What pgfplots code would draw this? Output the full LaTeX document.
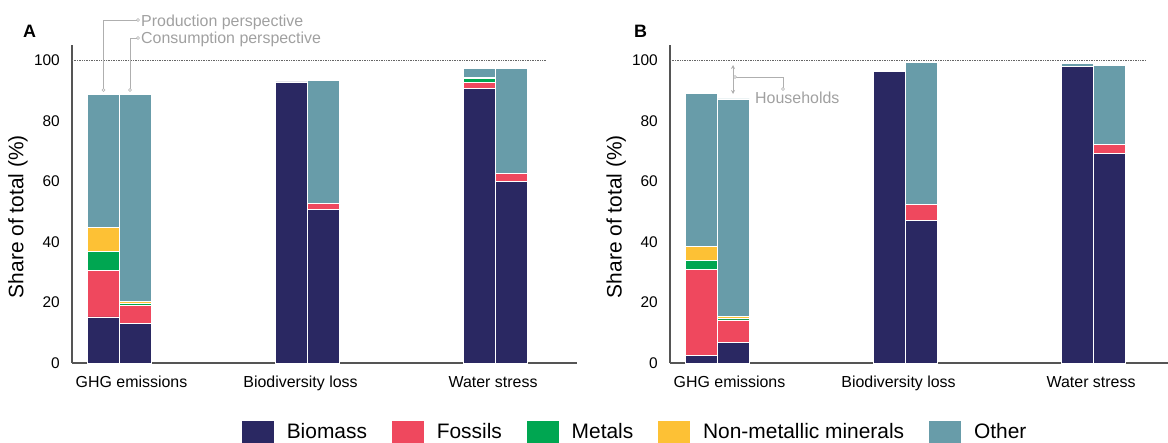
\documentclass[border=0pt]{standalone}
\usepackage{pgfplots}
\pgfplotsset{compat=1.18}
\usepackage{fontspec}
\setmainfont{Liberation Sans}
\usetikzlibrary{arrows.meta}
\definecolor{cBio}{RGB}{42,40,98}
\definecolor{cFos}{RGB}{239,72,94}
\definecolor{cMet}{RGB}{0,166,81}
\definecolor{cNon}{RGB}{253,193,53}
\definecolor{cOth}{RGB}{104,156,169}
\definecolor{annot}{RGB}{175,175,175}
\definecolor{annottext}{RGB}{160,160,160}
\definecolor{axisgray}{RGB}{85,85,85}
\pgfplotsset{
  seg/.style={fill=#1, draw=white, line width=0.8bp,
    legend image code/.code={\fill[#1] (0bp,-11bp) rectangle (31bp,11bp);}},
  panel/.style={
    scale only axis, height=318bp,
    ybar stacked, bar width=31.5bp,
    ymin=0, ymax=105, xmin=-0.2527,
    axis x line=bottom, axis y line=left,
    axis line style={-, draw=axisgray, line width=2bp},
    every outer x axis line/.append style={-},
    every outer y axis line/.append style={-},
    major tick length=0pt,
    ytick={0,20,40,60,80,100},
    xtick={0.064,0.963,1.987},
    xticklabels={GHG emissions, Biodiversity loss, Water stress},
    /pgf/number format/assume math mode=true,
    yticklabel style={font=\fontsize{15.5}{18}\selectfont, anchor=east, inner sep=0pt, xshift=-12bp},
    xticklabel style={font=\fontsize{16}{19}\selectfont, anchor=base, inner sep=0pt, yshift=-25bp},
    ylabel={Share of total (\%)},
    clip=false,
  },
}
\begin{document}
\begin{tikzpicture}
\path[use as bounding box] (0,0) rectangle (1168bp,443bp);
% ---------------- Panel A ----------------
\begin{axis}[panel, at={(72bp,80bp)}, anchor=south west,
  width=505bp, xmax=2.4335,
  ylabel style={font=\fontsize{21}{24}\selectfont, at={(axis description cs:-0.107,0.46)}, anchor=center, rotate=0},
  legend columns=5,
  legend style={at={(0.3366,-0.217)}, anchor=west, draw=none, fill=none,
    inner sep=0pt, outer sep=0pt,
    font=\fontsize{21}{25}\selectfont,
    nodes={inner sep=0pt},
    /tikz/every odd column/.append style={column sep=13bp},
    /tikz/every even column/.append style={column sep=25bp}},
  legend cell align=left]
\draw[densely dotted, black!60, line width=0.7bp] (axis cs:-0.2527,100) -- (axis cs:2.27,100);
\addplot[seg=cBio] coordinates {(-0.0851,15.2) (0.0851,13.0) (0.9149,92.8) (1.0851,50.8) (1.9149,90.8) (2.0851,59.8)};
\addplot[seg=cFos] coordinates {(-0.0851,15.5) (0.0851,6.1) (0.9149,0) (1.0851,1.8) (1.9149,1.8) (2.0851,2.8)};
\addplot[seg=cMet] coordinates {(-0.0851,6.0) (0.0851,0.6) (0.9149,0) (1.0851,0) (1.9149,1.4) (2.0851,0)};
\addplot[seg=cNon] coordinates {(-0.0851,8.0) (0.0851,0.6) (0.9149,0) (1.0851,0) (1.9149,0.4) (2.0851,0)};
\addplot[seg=cOth] coordinates {(-0.0851,44.0) (0.0851,68.4) (0.9149,0) (1.0851,40.8) (1.9149,2.8) (2.0851,34.6)};
\legend{Biomass, Fossils, Metals, Non-metallic minerals, Other}
\end{axis}
% ---------------- Panel B ----------------
\begin{axis}[panel, at={(670bp,80bp)}, anchor=south west,
  width=498bp, xmax=2.3963,
  ylabel style={font=\fontsize{21}{24}\selectfont, at={(axis description cs:-0.108,0.46)}, anchor=center, rotate=0}]
\draw[densely dotted, black!60, line width=0.7bp] (axis cs:-0.2527,100) -- (axis cs:2.274,100);
\addplot[seg=cBio] coordinates {(-0.0851,2.4) (0.0851,6.8) (0.9149,96.2) (1.0851,47.0) (1.9149,97.9) (2.0851,69.2)};
\addplot[seg=cFos] coordinates {(-0.0851,28.4) (0.0851,7.4) (0.9149,0) (1.0851,5.4) (1.9149,0) (2.0851,3.0)};
\addplot[seg=cMet] coordinates {(-0.0851,3.0) (0.0851,0.6) (0.9149,0) (1.0851,0) (1.9149,0) (2.0851,0)};
\addplot[seg=cNon] coordinates {(-0.0851,4.6) (0.0851,0.6) (0.9149,0) (1.0851,0) (1.9149,0) (2.0851,0)};
\addplot[seg=cOth] coordinates {(-0.0851,50.5) (0.0851,71.8) (0.9149,0) (1.0851,46.9) (1.9149,0.9) (2.0851,26.0)};
\end{axis}
% ---------------- Panel labels ----------------
\node[anchor=base west, inner sep=0pt, font=\bfseries\fontsize{18}{20}\selectfont] at (23bp,405bp) {A};
\node[anchor=base west, inner sep=0pt, font=\bfseries\fontsize{18}{20}\selectfont] at (634bp,405bp) {B};
% ---------------- Annotations ----------------
\draw[annot, line width=0.9bp] (103.5bp,353bp) -- (103.5bp,423bp) -- (138bp,423bp);
\draw[annot, line width=0.9bp] (130bp,353bp) -- (130bp,405bp) -- (138bp,405bp);
\foreach \p in {(103.5bp,353bp),(138bp,423bp),(130bp,353bp),(138bp,405bp)}
  \draw[annot, fill=white, line width=0.6bp] \p circle (1.5bp);
\node[anchor=base west, inner sep=0pt, text=annottext, font=\fontsize{16}{19}\selectfont] at (141bp,416bp) {Production perspective};
\node[anchor=base west, inner sep=0pt, text=annottext, font=\fontsize{16}{19}\selectfont] at (141bp,399bp) {Consumption perspective};
\draw[annot, line width=0.9bp, {Stealth[length=4bp,width=4bp]}-{Stealth[length=4bp,width=4bp]}] (733bp,378bp) -- (733bp,349bp);
\draw[annot, line width=0.9bp] (735bp,366bp) -- (783bp,366bp) -- (783bp,354bp);
\foreach \p in {(735bp,366bp),(783bp,354bp)}
  \draw[annot, fill=white, line width=0.6bp] \p circle (1.5bp);
\node[anchor=base west, inner sep=0pt, text=annottext, font=\fontsize{16}{19}\selectfont] at (755bp,339bp) {Households};
\end{tikzpicture}
\end{document}
